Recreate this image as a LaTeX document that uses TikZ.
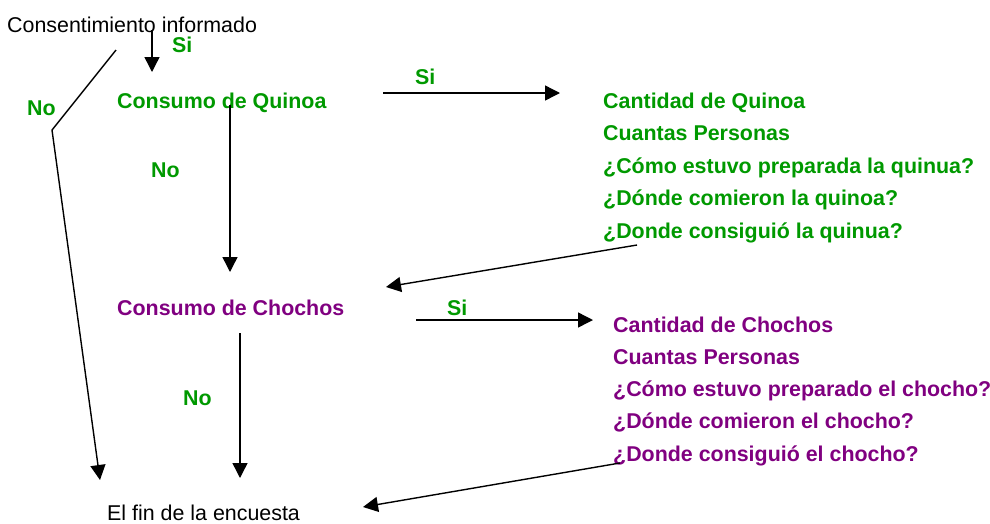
\documentclass[tikz,border=0pt]{standalone}
\usepackage{fontspec}
\setmainfont{Liberation Sans}
\usetikzlibrary{arrows.meta}
\definecolor{quinoagreen}{RGB}{0,153,0}
\definecolor{chochopurple}{RGB}{128,0,128}
\tikzset{
  txt/.style={anchor=base west, inner sep=0pt, font=\fontsize{21.4}{25}\selectfont},
  qtxt/.style={txt, text=quinoagreen, font=\fontsize{21.4}{25}\selectfont\bfseries},
  ctxt/.style={txt, text=chochopurple, font=\fontsize{21.4}{25}\selectfont\bfseries},
  arr/.style={-{Triangle[length=15pt,width=15pt]}, line width=1.4pt},
}
\begin{document}
\begin{tikzpicture}[x=1pt,y=-1pt]
\useasboundingbox (0,0) rectangle (990,523);
\node[txt] (ci) at (7,32) {Consentimiento informado};
\node[qtxt] (si1) at (172,52) {Si};
\node[qtxt] (no1) at (27,115) {No};
\node[qtxt] (quinoa) at (117,108) {Consumo de Quinoa};
\node[qtxt] (no2) at (151,177) {No};
\node[qtxt] (si2) at (415,84) {Si};
% preguntas de quinoa
\node[qtxt] (q1) at (603,108) {Cantidad de Quinoa};
\node[qtxt] (q2) at (603,140.5) {Cuantas Personas};
\node[qtxt] (q3) at (603,173) {¿Cómo estuvo preparada la quinua?};
\node[qtxt] (q4) at (603,205.5) {¿Dónde comieron la quinoa?};
\node[qtxt] (q5) at (603,238) {¿Donde consiguió la quinua?};
\node[ctxt] (chochos) at (117,315) {Consumo de Chochos};
\node[qtxt] (si3) at (447,315) {Si};
\node[qtxt] (no3) at (183,405) {No};
% preguntas de chochos
\node[ctxt] (c1) at (613,332) {Cantidad de Chochos};
\node[ctxt] (c2) at (613,364) {Cuantas Personas};
\node[ctxt] (c3) at (613,396.5) {¿Cómo estuvo preparado el chocho?};
\node[ctxt] (c4) at (613,428.5) {¿Dónde comieron el chocho?};
\node[ctxt] (c5) at (613,461) {¿Donde consiguió el chocho?};
\node[txt] (fin) at (107,520) {El fin de la encuesta};
% flechas
\coordinate (ci-s) at (152,30);
\coordinate (quinoa-n) at (152,72);
\draw[arr] (ci-s) -- (quinoa-n);
\coordinate (ci-no) at (116,50);
\coordinate (no-bend) at (52,130);
\coordinate (fin-nw) at (100,480);
\draw[arr] (ci-no) -- (no-bend) -- (fin-nw);
\coordinate (quinoa-s) at (230,105);
\coordinate (chochos-n) at (230,272);
\draw[arr] (quinoa-s) -- (chochos-n);
\coordinate (quinoa-e) at (383,93);
\coordinate (q-w) at (560,93);
\draw[arr] (quinoa-e) -- (q-w);
\coordinate (q5-s) at (637,245);
\coordinate (chochos-ne) at (386,287);
\draw[arr] (q5-s) -- (chochos-ne);
\coordinate (chochos-e) at (416,320);
\coordinate (c-w) at (593,320);
\draw[arr] (chochos-e) -- (c-w);
\coordinate (chochos-s) at (240,333);
\coordinate (fin-n) at (240,478);
\draw[arr] (chochos-s) -- (fin-n);
\coordinate (c5-s) at (620,463);
\coordinate (fin-e) at (363,507);
\draw[arr] (c5-s) -- (fin-e);
\end{tikzpicture}
\end{document}
